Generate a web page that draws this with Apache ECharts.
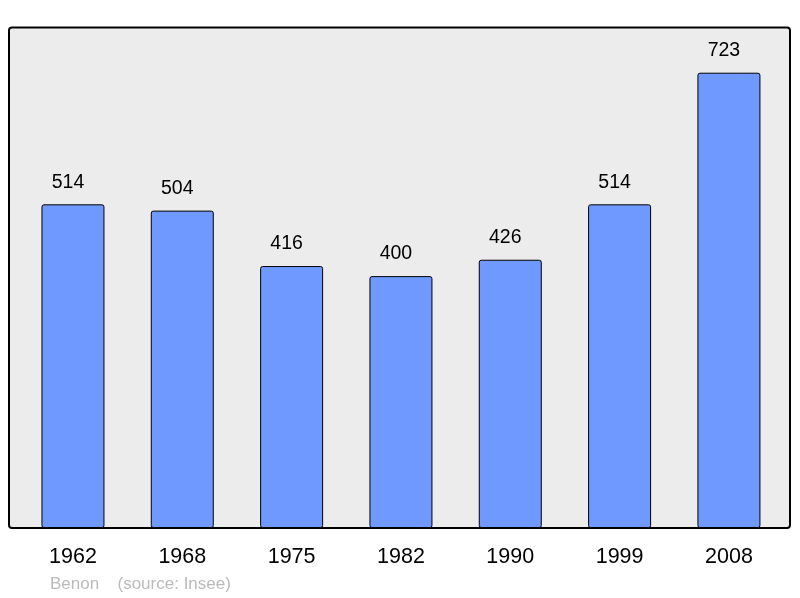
<!DOCTYPE html>
<html><head><meta charset="utf-8">
<script src="https://cdn.jsdelivr.net/npm/echarts@6/dist/echarts.min.js"></script>
<style>html,body{margin:0;padding:0;background:#fff}#c{width:800px;height:598px}</style>
</head><body><div id="c"></div>
<script>
const years = ['1962','1968','1975','1982','1990','1999','2008'];
const population = [514, 504, 416, 400, 426, 514, 723];
const communeName = 'Benon';
const sourceText = '(source: Insee)';

const FONT = 'Liberation Sans, Arial, sans-serif';
const chart = echarts.init(document.getElementById('c'), null, {renderer:'canvas'});
chart.setOption({
  animation:false,
  backgroundColor:'#ffffff',
  textStyle:{fontFamily:FONT},
  graphic:[
    {type:'rect', z:0, shape:{x:9,y:27.5,width:781,height:500.5,r:3},
     style:{fill:'#ececec',stroke:'#000',lineWidth:2}},
    {type:'text', z:10, x:50, y:584,
     style:{text:communeName, fill:'#bbbbbb', font:'17px '+FONT, textVerticalAlign:'middle'}},
    {type:'text', z:10, x:117.5, y:584,
     style:{text:sourceText, fill:'#bbbbbb', font:'17px '+FONT, textVerticalAlign:'middle'}}
  ],
  grid:{left:18.3, right:16.4, top:28, bottom:70},
  xAxis:{type:'category', data:years,
    axisLine:{show:false}, axisTick:{show:false},
    axisLabel:{color:'#000', fontSize:21.5, margin:18, fontFamily:FONT}},
  yAxis:{type:'value', min:0, max:794, show:false, splitLine:{show:false}},
  series:[{type:'bar', data:population, barWidth:63, z:5,
    itemStyle:{color:'#7099ff', borderColor:'#000', borderWidth:1, borderRadius:2},
    label:{show:true, position:'top', distance:12, offset:[-5,0], color:'#000', fontSize:19.5,
      fontFamily:FONT}}]
});
</script></body></html>
